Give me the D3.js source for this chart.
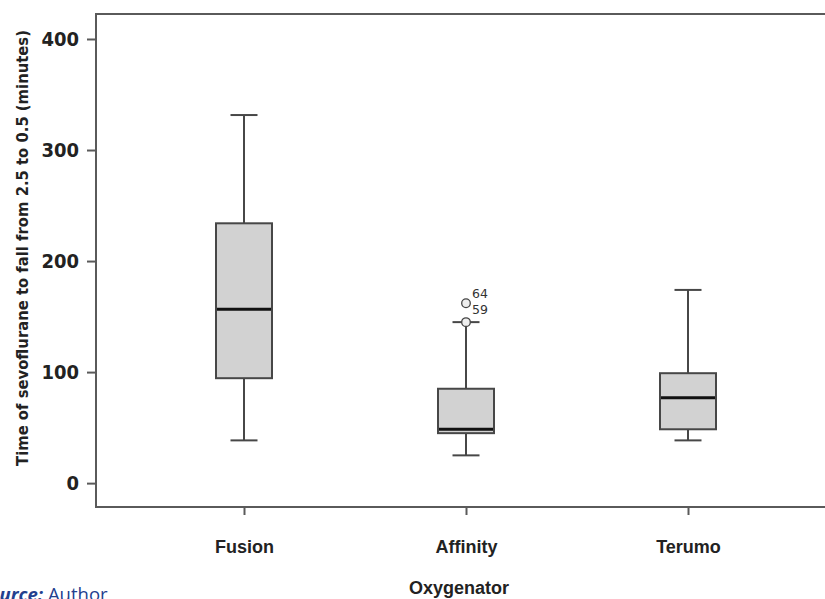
<!DOCTYPE html>
<html>
<head>
<meta charset="utf-8">
<script src="https://cdn.jsdelivr.net/npm/d3@7"></script>
<style>
  html, body { margin: 0; padding: 0; background: #fff; overflow: hidden; }
  svg { display: block; }
</style>
</head>
<body>
<svg id="chart" width="825" height="599"></svg>
<script>
// values (minutes)
const categories = ["Fusion", "Affinity", "Terumo"];
const whiskerLow = [38.5, 25, 38.5];
const q1 = [94.5, 45, 48.5];
const medians = [156.5, 48.5, 77];
const q3 = [234, 85, 99];
const whiskerHigh = [331.5, 145, 174];
const outlierValues = [[], [145, 162], []];
const outlierLabels = [[], ["59", "64"], []];
const yTicks = [0, 100, 200, 300, 400];

const width = 825;
const height = 599;
const svg = d3.select("#chart");

const plotLeft = 96, plotTop = 14, plotBottom = 507;

const y = d3.scaleLinear().domain([-21.5, 422.5]).range([plotBottom, plotTop]);
const x = d3.scalePoint().domain(categories).range([244, 688]);

const boxW = 56;
const capW = 27;
const lineCol = "#474747";
const narrow = "'Liberation Sans Narrow', 'DejaVu Sans Condensed', sans-serif";

// frame: top, left, bottom (right side runs off the page)
svg.append("path")
  .attr("d", `M${width + 10},${plotTop}H${plotLeft}V${plotBottom}H${width + 10}`)
  .attr("fill", "none")
  .attr("stroke", "#5a5a5a")
  .attr("stroke-width", 2);

// y axis
const yAxis = d3.axisLeft(y).tickValues(yTicks).tickSize(9).tickPadding(8).tickFormat(d3.format("d"));
const gy = svg.append("g").attr("transform", `translate(${plotLeft},0)`).call(yAxis);
gy.select(".domain").remove();
gy.selectAll(".tick line").attr("stroke", "#5a5a5a").attr("stroke-width", 2);
gy.selectAll(".tick text")
  .attr("font-family", narrow)
  .attr("font-weight", "bold")
  .attr("font-size", 20)
  .attr("fill", "#222");

// x axis
const xAxis = d3.axisBottom(x).tickSize(8).tickPadding(25);
const gx = svg.append("g").attr("transform", `translate(0,${plotBottom})`).call(xAxis);
gx.select(".domain").remove();
gx.selectAll(".tick line").attr("stroke", "#5a5a5a").attr("stroke-width", 2);
gx.selectAll(".tick text")
  .attr("font-family", "'Liberation Sans', Arial, sans-serif")
  .attr("font-weight", "bold")
  .attr("font-size", 18)
  .attr("fill", "#222");

// boxes
const rows = categories.map((c, i) => ({
  c, lo: whiskerLow[i], q1: q1[i], med: medians[i], q3: q3[i], hi: whiskerHigh[i],
  out: outlierValues[i], labels: outlierLabels[i]
}));

const g = svg.append("g").selectAll("g").data(rows).enter().append("g");

g.append("line")
  .attr("x1", d => x(d.c)).attr("x2", d => x(d.c))
  .attr("y1", d => y(d.hi)).attr("y2", d => y(d.lo))
  .attr("stroke", lineCol).attr("stroke-width", 2);

g.selectAll(".cap").data(d => [d.lo, d.hi].map(v => ({ c: d.c, v }))).enter()
  .append("line")
  .attr("x1", d => x(d.c) - capW / 2).attr("x2", d => x(d.c) + capW / 2)
  .attr("y1", d => y(d.v)).attr("y2", d => y(d.v))
  .attr("stroke", lineCol).attr("stroke-width", 2);

g.append("rect")
  .attr("x", d => x(d.c) - boxW / 2)
  .attr("width", boxW)
  .attr("y", d => y(d.q3))
  .attr("height", d => y(d.q1) - y(d.q3))
  .attr("fill", "#d2d2d2")
  .attr("stroke", lineCol)
  .attr("stroke-width", 2);

g.append("line")
  .attr("x1", d => x(d.c) - boxW / 2 + 1).attr("x2", d => x(d.c) + boxW / 2 - 1)
  .attr("y1", d => y(d.med)).attr("y2", d => y(d.med))
  .attr("stroke", "#111").attr("stroke-width", 3);

// outliers
g.selectAll(".out").data(d => d.out.map(v => ({ c: d.c, v }))).enter()
  .append("circle")
  .attr("cx", d => x(d.c)).attr("cy", d => y(d.v))
  .attr("r", 4.3)
  .attr("fill", "#eee")
  .attr("stroke", "#444")
  .attr("stroke-width", 1.3);

// labels stacked to the right of the highest outlier
g.each(function (d) {
  if (!d.out.length) return;
  const topV = d3.max(d.out);
  d3.select(this).selectAll(".lab").data(d.labels).enter()
    .append("text")
    .attr("x", x(d.c) + 6)
    .attr("y", (l, i) => y(topV) + 11 - i * 16)
    .attr("font-family", "'DejaVu Sans', sans-serif")
    .attr("font-size", 12.5)
    .attr("fill", "#333")
    .text(l => l);
});

// axis titles
svg.append("text")
  .attr("x", x("Affinity") - 7)
  .attr("y", 594)
  .attr("text-anchor", "middle")
  .attr("font-family", "'Liberation Sans', Arial, sans-serif")
  .attr("font-weight", "bold")
  .attr("font-size", 18)
  .attr("fill", "#222")
  .text("Oxygenator");

const yTitle = svg.append("text")
  .attr("transform", "translate(28,248) rotate(-90)")
  .attr("text-anchor", "middle")
  .attr("font-family", narrow)
  .attr("font-weight", "bold")
  .attr("font-size", 18)
  .attr("fill", "#222")
  .text("Time of sevoflurane to fall from 2.5 to 0.5 (minutes)");
// size the title so it spans the same height as in the original
const natural = yTitle.node().getComputedTextLength();
yTitle.attr("font-size", Math.min(19, 18 * 436 / natural));

// source note, cut at the page edge like the original
const src = svg.append("text")
  .attr("x", -21)
  .attr("y", 601)
  .attr("font-family", "'Open Sans', sans-serif")
  .attr("font-size", 18.5)
  .attr("fill", "#23408e");
src.append("tspan").attr("font-weight", "bold").attr("font-style", "italic").text("Source:");
src.append("tspan").text(" Author");
</script>
</body>
</html>
